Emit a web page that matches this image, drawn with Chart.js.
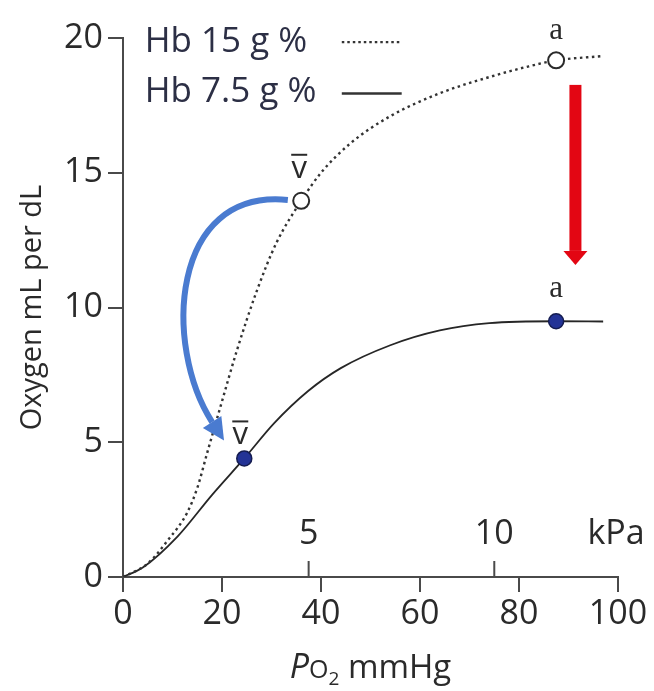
<!DOCTYPE html>
<html>
<head>
<meta charset="utf-8">
<script src="https://cdn.jsdelivr.net/npm/chart.js@4"></script>
<style>
  html, body { margin: 0; padding: 0; background: #ffffff; }
  canvas { display: block; }
</style>
</head>
<body>
<canvas id="c" width="654" height="691"></canvas>
<script>
// ---- Data ----
// PO2 in mmHg, oxygen content in mL per dL
const hb15X = [0, 5, 9, 13, 15, 17, 19.5, 23, 27, 31, 36.0, 40, 46, 54, 64, 74, 82, 87.5, 97];
const hb15Y = [0, 0.5, 1.35, 2.4, 3.3, 4.6, 6.2, 8.4, 10.6, 12.4, 13.96, 15.0, 16.1, 17.1, 17.95, 18.55, 18.95, 19.17, 19.33];

const hb75X = [0, 4, 11, 18, 24.5, 30.5, 37.4, 44, 54, 64, 74, 87.5, 97];
const hb75Y = [0, 0.35, 1.5, 3.05, 4.4, 5.7, 6.9, 7.75, 8.6, 9.15, 9.42, 9.49, 9.48];

// marked points: arterial (a) and mixed venous (v̄)
const openPtsX = [36.0, 87.5];
const openPtsY = [13.96, 19.17];
const filledPtsX = [24.5, 87.5];
const filledPtsY = [4.4, 9.49];

// axis ticks
const xTicks = [0, 20, 40, 60, 80, 100];
const yTicks = [0, 5, 10, 15, 20];
const kpaTicks = [5, 10];
const MMHG_PER_KPA = 7.50062;

const seriesNames = ['Hb 15 g %', 'Hb 7.5 g %'];
const yTitle = 'Oxygen mL per dL';

function pts(xs, ys) { return xs.map((x, i) => ({ x: x, y: ys[i] })); }

const SANS = '"Open Sans", "Noto Sans", sans-serif';
const INK = '#2a2a2a';
const AXIS = '#4a4a4a';

// ---- annotation plugin ----
const annot = {
  id: 'annot',
  afterDatasetsDraw(chart) {
    const ctx = chart.ctx;
    const xs = chart.scales.x, ys = chart.scales.y;
    const X = v => xs.getPixelForValue(v), Y = v => ys.getPixelForValue(v);
    const y0 = Y(0);
    ctx.save();

    // secondary kPa ticks and labels
    ctx.strokeStyle = AXIS; ctx.lineWidth = 2;
    ctx.fillStyle = INK;
    ctx.font = '34px ' + SANS;
    ctx.textAlign = 'center'; ctx.textBaseline = 'middle';
    kpaTicks.forEach(k => {
      const px = X(k * MMHG_PER_KPA);
      ctx.beginPath(); ctx.moveTo(px, y0); ctx.lineTo(px, y0 - 16); ctx.stroke();
      ctx.fillText(String(k), px, y0 - 43);
    });
    ctx.fillText('kPa', X(99.6), y0 - 43);

    // red arrow (drop in arterial content)
    const rx = X(91.4), rTop = Y(18.26), rTip = Y(11.58);
    ctx.fillStyle = '#e30613';
    ctx.fillRect(rx - 6, rTop, 12, (rTip - 14) - rTop);
    ctx.beginPath();
    ctx.moveTo(rx - 12, rTip - 14); ctx.lineTo(rx + 12, rTip - 14); ctx.lineTo(rx, rTip);
    ctx.closePath(); ctx.fill();

    // blue curved arrow (venous point shift)
    const p0 = [X(33.3), Y(13.99)], c1 = [X(9.5), Y(14.43)], c2 = [X(8.1), Y(8.57)], p3 = [X(18.0), Y(5.75)];
    ctx.strokeStyle = '#4a7bd0'; ctx.fillStyle = '#4a7bd0';
    ctx.lineWidth = 6; ctx.lineCap = 'butt';
    ctx.beginPath(); ctx.moveTo(p0[0], p0[1]);
    ctx.bezierCurveTo(c1[0], c1[1], c2[0], c2[1], p3[0], p3[1]);
    ctx.stroke();
    let dx = p3[0] - c2[0], dy = p3[1] - c2[1];
    const L = Math.hypot(dx, dy); dx /= L; dy /= L;
    const hl = 22, hw = 11;
    ctx.beginPath();
    ctx.moveTo(p3[0] + dx * hl, p3[1] + dy * hl);
    ctx.lineTo(p3[0] - dy * hw, p3[1] + dx * hw);
    ctx.lineTo(p3[0] + dy * hw, p3[1] - dx * hw);
    ctx.closePath(); ctx.fill();

    // point labels
    function vbar(px, py) {
      ctx.font = '31px ' + SANS; ctx.fillStyle = INK;
      ctx.textAlign = 'center'; ctx.textBaseline = 'middle';
      ctx.fillText('v', px, py);
      ctx.strokeStyle = INK; ctx.lineWidth = 2;
      ctx.beginPath(); ctx.moveTo(px - 8, py - 14); ctx.lineTo(px + 8, py - 14); ctx.stroke();
    }
    function aLab(px, py) {
      ctx.font = '31px "Liberation Serif", "DejaVu Serif", serif'; ctx.fillStyle = INK;
      ctx.textAlign = 'center'; ctx.textBaseline = 'middle';
      ctx.fillText('a', px, py);
    }
    vbar(X(openPtsX[0]) - 2, Y(openPtsY[0]) - 32);
    aLab(X(openPtsX[1]), Y(openPtsY[1]) - 30);
    vbar(X(filledPtsX[0]) - 4, Y(filledPtsY[0]) - 23);
    aLab(X(filledPtsX[1]), Y(filledPtsY[1]) - 32);

    // legend
    ctx.font = '35px ' + SANS; ctx.fillStyle = '#2c2f45';
    ctx.textAlign = 'left'; ctx.textBaseline = 'middle';
    const lgX = X(4.4);
    const lg1 = Y(19.85), lg2 = Y(17.98);
    ctx.fillText(seriesNames[0], lgX, lg1);
    ctx.fillText(seriesNames[1], lgX, lg2);
    ctx.strokeStyle = '#333'; ctx.lineWidth = 2.2;
    ctx.setLineDash([2.5, 3]);
    ctx.beginPath(); ctx.moveTo(X(44.2), lg1); ctx.lineTo(X(56.3), lg1); ctx.stroke();
    ctx.setLineDash([]);
    ctx.lineWidth = 2.4;
    ctx.beginPath(); ctx.moveTo(X(44.2), lg2 + 1); ctx.lineTo(X(56.3), lg2 + 1); ctx.stroke();

    // y title
    ctx.save();
    ctx.translate(33, (ys.top + ys.bottom) / 2);
    ctx.rotate(-Math.PI / 2);
    ctx.font = '29px ' + SANS; ctx.fillStyle = INK;
    ctx.textAlign = 'center'; ctx.textBaseline = 'middle';
    ctx.fillText(yTitle, 0, 0);
    ctx.restore();

    // x title: P_O2 mmHg
    const parts = [
      { t: 'P', f: 'italic 34px ' + SANS, dy: 0 },
      { t: 'O', f: '25px ' + SANS, dy: 0 },
      { t: '2', f: '19px ' + SANS, dy: 7 },
      { t: ' mmHg', f: '33px ' + SANS, dy: 0 }
    ];
    let tw = 0;
    parts.forEach(p => { ctx.font = p.f; p.w = ctx.measureText(p.t).width; tw += p.w; });
    let cx = (xs.left + xs.right) / 2 - tw / 2;
    const base = 678;
    ctx.textAlign = 'left'; ctx.textBaseline = 'alphabetic'; ctx.fillStyle = INK;
    parts.forEach(p => { ctx.font = p.f; ctx.fillText(p.t, cx, base + p.dy); cx += p.w; });

    ctx.restore();
  }
};

new Chart(document.getElementById('c'), {
  type: 'scatter',
  data: {
    datasets: [
      { label: 'open', data: pts(openPtsX, openPtsY), pointRadius: 8, pointBorderWidth: 2,
        pointBackgroundColor: '#ffffff', pointBorderColor: '#2a2a2a', showLine: false, order: 0 },
      { label: 'filled', data: pts(filledPtsX, filledPtsY), pointRadius: 7.5, pointBorderWidth: 1.5,
        pointBackgroundColor: '#233396', pointBorderColor: '#141c50', showLine: false, order: 0 },
      { label: seriesNames[0], data: pts(hb15X, hb15Y), showLine: true, pointRadius: 0,
        borderColor: '#333333', borderWidth: 2.4, borderDash: [2.5, 3.5], cubicInterpolationMode: 'monotone', order: 1 },
      { label: seriesNames[1], data: pts(hb75X, hb75Y), showLine: true, pointRadius: 0,
        borderColor: '#262626', borderWidth: 1.8, cubicInterpolationMode: 'monotone', order: 1 }
    ]
  },
  options: {
    responsive: false,
    animation: false,
    devicePixelRatio: 1,
    layout: { padding: { left: 0, right: 36, top: 38, bottom: 0 } },
    plugins: { legend: { display: false }, tooltip: { enabled: false } },
    scales: {
      x: {
        type: 'linear', min: 0, max: 100,
        afterFit: s => { s.height = 114; },
        afterBuildTicks: s => { s.ticks = xTicks.map(v => ({ value: v })); },
        grid: { drawOnChartArea: false, drawTicks: true, tickLength: 15, color: AXIS, lineWidth: 2 },
        border: { display: true, color: AXIS, width: 2 },
        ticks: { color: INK, font: { family: SANS, size: 34 }, padding: 2, maxRotation: 0 }
      },
      y: {
        type: 'linear', min: 0, max: 20,
        afterFit: s => { s.width = 123; },
        afterBuildTicks: s => { s.ticks = yTicks.map(v => ({ value: v })); },
        grid: { drawOnChartArea: false, drawTicks: true, tickLength: 15, color: AXIS, lineWidth: 2 },
        border: { display: true, color: AXIS, width: 2 },
        ticks: { color: INK, font: { family: SANS, size: 34 }, padding: 5 }
      }
    }
  },
  plugins: [annot]
});
</script>
</body>
</html>
